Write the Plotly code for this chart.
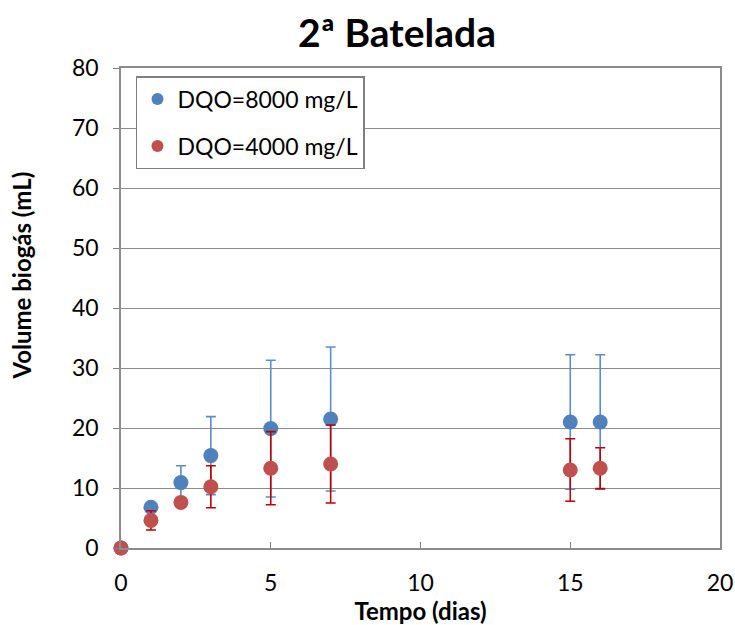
import plotly.graph_objects as go

tempo = [0, 1, 2, 3, 5, 7, 15, 16]
vol_8000 = [0, 6.8, 10.9, 15.4, 19.9, 21.5, 21.0, 21.0]
err_8000 = [0, 0.5, 2.8, 6.5, 11.4, 12.0, 11.2, 11.2]
vol_4000 = [0, 4.6, 7.6, 10.2, 13.3, 14.0, 13.0, 13.3]
err_4000 = [0, 1.6, 0.5, 3.5, 6.1, 6.5, 5.2, 3.4]

FONT = "Lato"

fig = go.Figure()
fig.add_trace(go.Scatter(
    x=tempo, y=vol_8000, mode="markers", name="DQO=8000 mg/L",
    legendgroup="a", cliponaxis=False,
    marker=dict(color="#4F81BD", size=15),
    error_y=dict(type="data", array=err_8000, visible=True,
                 color="#5B8DCB", thickness=1.6, width=5),
))
fig.add_trace(go.Scatter(
    x=tempo, y=vol_4000, mode="markers", name="DQO=4000 mg/L",
    legendgroup="b", cliponaxis=False,
    marker=dict(color="#C0504D", size=15),
    error_y=dict(type="data", array=err_4000, visible=True,
                 color="#C00000", thickness=1.6, width=5),
))

fig.update_layout(
    width=735, height=625,
    margin=dict(l=121, r=15, t=68, b=77, autoexpand=False),
    paper_bgcolor="white", plot_bgcolor="white",
    font=dict(family=FONT, color="black", size=22),
    title=dict(text="<b>2ª Batelada</b>", x=397 / 735, xanchor="center",
               y=1 - 33 / 625, yanchor="middle", font=dict(size=39, family=FONT)),
    showlegend=True,
    legend=dict(x=0.025, y=0.983, xanchor="left", yanchor="top",
                bordercolor="#808080", borderwidth=1.5, bgcolor="white",
                font=dict(size=23, family=FONT), itemsizing="constant",
                traceorder="grouped", tracegroupgap=14),
    annotations=[dict(
        text="<b>Volume biogás (mL)</b>", textangle=-90,
        xref="paper", yref="paper", x=(22 - 121) / 599, y=(549 - 276) / 481,
        xanchor="center", yanchor="middle", showarrow=False,
        font=dict(size=24, family=FONT, color="black"),
    )],
)
fig.update_xaxes(
    range=[0, 20], tickvals=[0, 5, 10, 15, 20], ticks="inside", ticklen=6,
    tickcolor="#808080", showgrid=False, showline=True, linecolor="#8C8C8C",
    linewidth=1.5, mirror=True, zeroline=False, automargin=False,
    ticklabelstandoff=14,
    title=dict(text="<b>Tempo (dias)</b>", font=dict(size=24), standoff=4),
    tickfont=dict(size=23),
)
fig.update_yaxes(
    range=[0, 80], tickvals=list(range(0, 81, 10)), ticks="outside", ticklen=6,
    tickcolor="#808080", showgrid=True, gridcolor="#8C8C8C", gridwidth=1.2,
    showline=True, linecolor="#8C8C8C", linewidth=1.5, mirror=True,
    zeroline=False, automargin=False, ticklabelstandoff=10,
    tickfont=dict(size=23),
)

fig.write_html("out.html")
